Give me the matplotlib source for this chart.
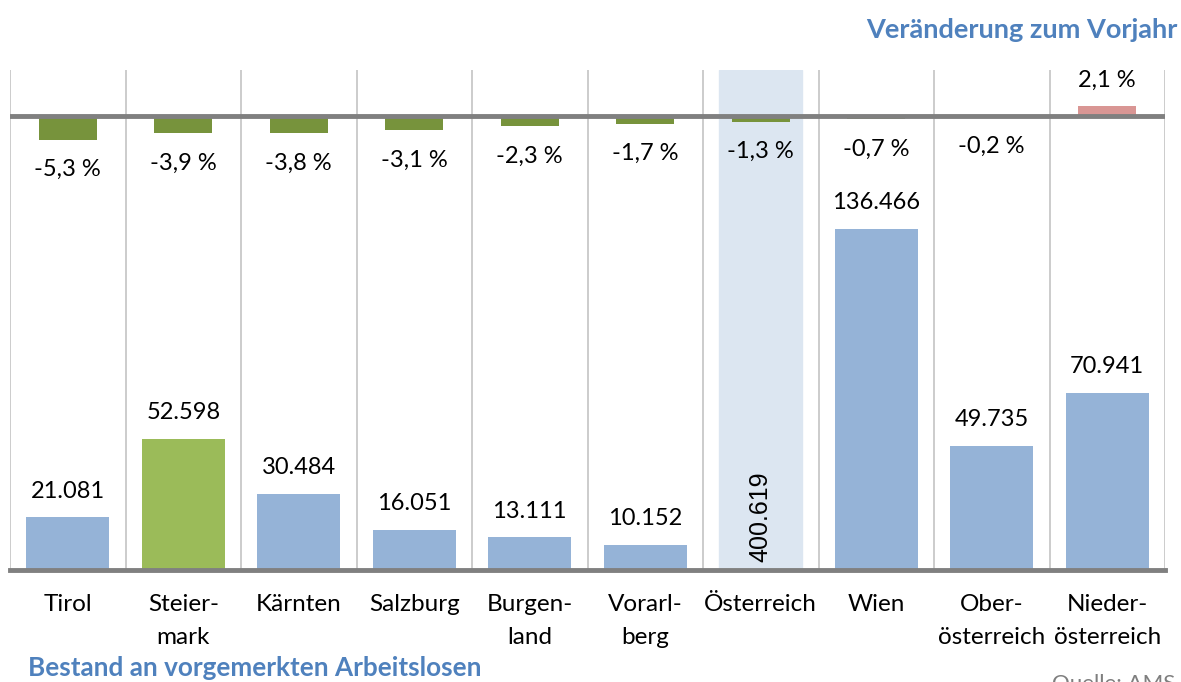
import matplotlib

matplotlib.use("Agg")
import matplotlib.pyplot as plt  # noqa: E402

regions = ["Tirol", "Steier-\nmark", "Kärnten", "Salzburg", "Burgen-\nland", "Vorarl-\nberg",
           "Österreich", "Wien", "Ober-\nösterreich", "Nieder-\nösterreich"]
bestand = [21081, 52598, 30484, 16051, 13111, 10152, 400619, 136466, 49735, 70941]
change = [-5.3, -3.9, -3.8, -3.1, -2.3, -1.7, -1.3, -0.7, -0.2, 2.1]
highlight = "Österreich"

BLUE, GREEN_L, GREEN_D, RED = "#95b3d7", "#9bbb59", "#77933c", "#d99694"
BAND, GRID, AXIS, TITLE = "#dce6f1", "#c8c8c8", "#808080", "#4f81bd"

plt.rcParams["font.family"] = ["Lato", "DejaVu Sans"]
W, H = 1181, 682
fig = plt.figure(figsize=(W / 100, H / 100), dpi=100)
rect = [10 / W, (H - 570) / H, 1155 / W, 500 / H]

n = len(regions)
xs = list(range(n))
hi = regions.index(highlight)

# lower chart: stock of registered unemployed
ax = fig.add_axes(rect)
ax.set_xlim(-0.5, n - 0.5)
ax.set_ylim(0, 200000)
ax.axvspan(hi - 0.36, hi + 0.36, color=BAND, zorder=0)
for i in range(n + 1):
    ax.axvline(i - 0.5, color=GRID, lw=1.3, zorder=1)
cols = [GREEN_L if r.startswith("Steier") else BLUE for r in regions]
vals = [0 if i == hi else v for i, v in enumerate(bestand)]
ax.bar(xs, vals, width=0.72, color=cols, zorder=2)
for i, v in enumerate(bestand):
    lab = f"{v:,}".replace(",", ".")
    if i == hi:
        ax.annotate(lab, (i, 0), xytext=(0, 53), textcoords="offset pixels", rotation=90,
                    ha="center", va="center", fontsize=18, family="Liberation Sans")
    else:
        ax.annotate(lab, (i, v), xytext=(0, 26), textcoords="offset pixels",
                    ha="center", va="center", fontsize=17)
ax.axhline(0, color=AXIS, lw=3.5, zorder=4, clip_on=False)
for s in ax.spines.values():
    s.set_visible(False)
ax.set_yticks([])
ax.set_xticks(xs)
ax.set_xticklabels(regions, fontsize=17.5, linespacing=1.7)
ax.tick_params(axis="x", length=0, pad=17)

# upper chart: change vs previous year
ax2 = fig.add_axes(rect)
ax2.patch.set_alpha(0)
ax2.set_xlim(-0.5, n - 0.5)
ax2.set_ylim(-100.9, 10.2)
ax2.bar(xs, change, width=0.5, color=[RED if c > 0 else GREEN_D for c in change], zorder=2)
for i, c in enumerate(change):
    lab = f"{c:.1f} %".replace(".", ",")
    off = 26 if c > 0 else -30
    ax2.annotate(lab, (i, c), xytext=(0, off), textcoords="offset pixels",
                 ha="center", va="center", fontsize=17)
ax2.axhline(0, color=AXIS, lw=3.5, zorder=4)
ax2.axis("off")

fig.text(1178 / W, 1 - 30 / H, "Veränderung zum Vorjahr", ha="right", va="center",
         fontsize=19.5, fontweight="bold", color=TITLE)
fig.text(28 / W, 1 - 668 / H, "Bestand an vorgemerkten Arbeitslosen", ha="left", va="center",
         fontsize=18.8, fontweight="bold", color=TITLE)
fig.text(1052 / W, 1 - 674 / H, "Quelle: AMS", ha="left", va="top",
         fontsize=16, color="#7f7f7f")

fig.savefig("out.png", dpi=100, facecolor="white")
